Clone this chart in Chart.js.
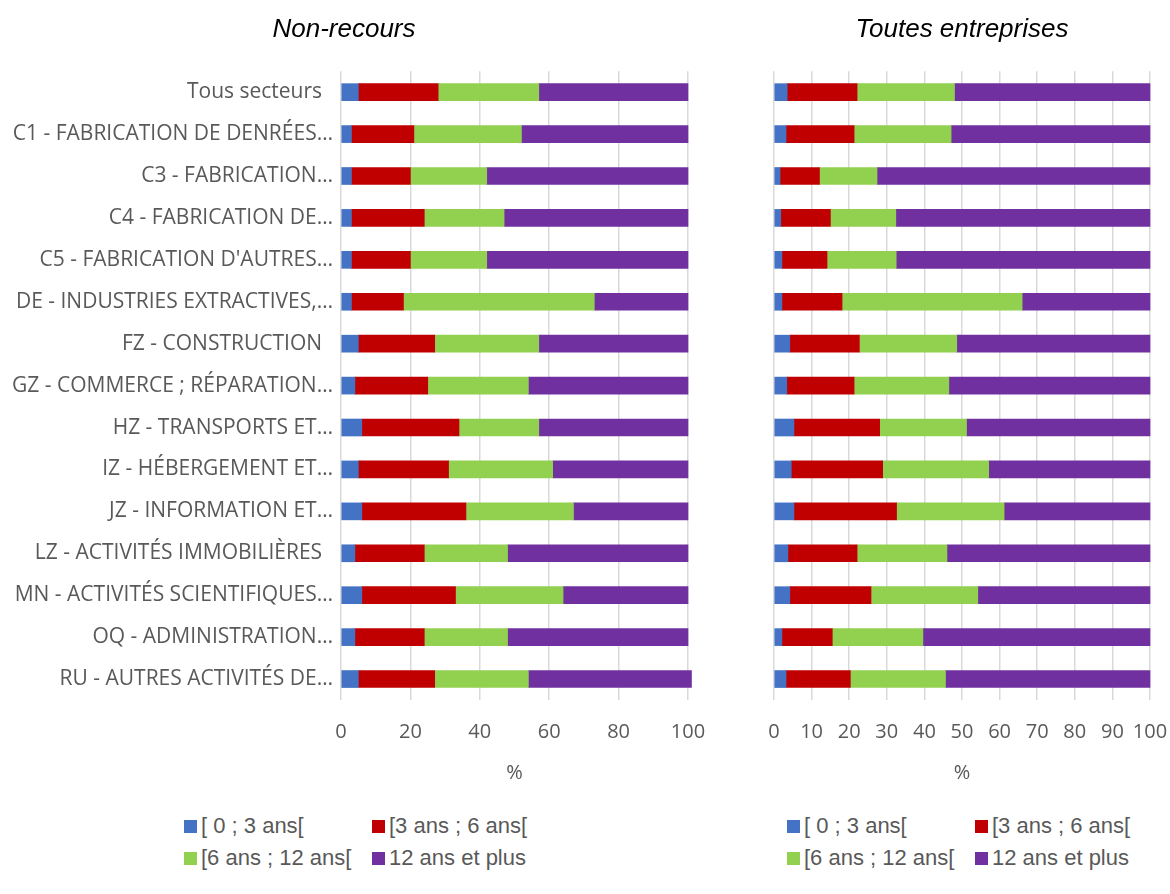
<!DOCTYPE html>
<html>
<head>
<meta charset="utf-8">
<script src="https://cdn.jsdelivr.net/npm/chart.js@4.4.1/dist/chart.umd.min.js"></script>
<style>
  html, body { margin: 0; padding: 0; background: #ffffff; }
  body { width: 1170px; height: 894px; position: relative; overflow: hidden; }
  #wrapL { position: absolute; left: 0; top: 0; width: 715px; height: 800px; }
  #wrapR { position: absolute; left: 760px; top: 0; width: 410px; height: 800px; }
  .legend { position: absolute; font-family: "Liberation Sans", Arial, sans-serif; font-size: 22px; color: #595959; }
  .legend .item { position: absolute; white-space: nowrap; line-height: 26px; }
  .legend .box { display: inline-block; width: 13px; height: 13px; margin-right: 4px; vertical-align: 0px; }
</style>
</head>
<body>
<div id="wrapL"><canvas id="left"></canvas></div>
<div id="wrapR"><canvas id="right"></canvas></div>
<div class="legend" id="legL" style="left:184px; top:813px;"></div>
<div class="legend" id="legR" style="left:787px; top:813px;"></div>
<script>
const categories = [
  "Tous secteurs  ",
  "C1 - FABRICATION DE DENRÉES…",
  "C3 - FABRICATION…",
  "C4 - FABRICATION DE…",
  "C5 - FABRICATION D'AUTRES…",
  "DE - INDUSTRIES EXTRACTIVES,…",
  "FZ - CONSTRUCTION  ",
  "GZ - COMMERCE ; RÉPARATION…",
  "HZ - TRANSPORTS ET…",
  "IZ - HÉBERGEMENT ET…",
  "JZ - INFORMATION ET…",
  "LZ - ACTIVITÉS IMMOBILIÈRES  ",
  "MN - ACTIVITÉS SCIENTIFIQUES…",
  "OQ - ADMINISTRATION…",
  "RU - AUTRES ACTIVITÉS DE…"
];
const seriesNames = ["[ 0 ; 3 ans[", "[3 ans ; 6 ans[", "[6 ans ; 12 ans[", "12 ans et plus"];
const seriesColors = ["#4472C4", "#C00000", "#92D050", "#7030A0"];

// Non-recours
const nr0to3 = [5, 3, 3, 3, 3, 3, 5, 4, 6, 5, 6, 4, 6, 4, 5];
const nr3to6 = [23, 18, 17, 21, 17, 15, 22, 21, 28, 26, 30, 20, 27, 20, 22];
const nr6to12 = [29, 31, 22, 23, 22, 55, 30, 29, 23, 30, 31, 24, 31, 24, 27];
const nr12plus = [43, 48, 58, 53, 58, 27, 43, 46, 43, 39, 33, 52, 36, 52, 47];

// Toutes entreprises
const te0to3 = [3.5, 3.2, 1.6, 1.8, 2.1, 2.1, 4.2, 3.4, 5.3, 4.6, 5.3, 3.7, 4.2, 2.1, 3.2];
const te3to6 = [18.6, 18.1, 10.5, 13.2, 12.0, 16.0, 18.5, 17.9, 22.8, 24.3, 27.3, 18.4, 21.6, 13.4, 17.1];
const te6to12 = [25.9, 25.8, 15.3, 17.4, 18.4, 47.9, 25.9, 25.2, 23.1, 28.2, 28.6, 23.9, 28.4, 24.1, 25.3];
const te12plus = [52.0, 52.9, 72.6, 67.6, 67.5, 34.0, 51.4, 53.5, 48.8, 42.9, 38.8, 54.0, 45.8, 60.4, 54.4];

const leftStep = 20;
const rightStep = 10;

const tickFont = { family: "'Open Sans', sans-serif", size: 20 };
const labelFont = { family: "'Open Sans', sans-serif", size: 21 };
const tickColor = "#595959";

function makeDatasets(arrs) {
  return arrs.map((d, i) => ({
    label: seriesNames[i],
    data: d,
    backgroundColor: seriesColors[i],
    borderWidth: 0,
    barThickness: 17,
    clip: false
  }));
}

function makeChart(id, title, arrs, step, showY) {
  return new Chart(document.getElementById(id), {
    type: 'bar',
    data: { labels: categories, datasets: makeDatasets(arrs) },
    options: {
      indexAxis: 'y',
      responsive: true,
      maintainAspectRatio: false,
      animation: false,
      layout: { padding: showY ? { left: 0, right: 27, top: 0, bottom: 15 } : { left: 14, right: 20, top: 0, bottom: 15 } },
      plugins: {
        legend: { display: false },
        tooltip: { enabled: false },
        title: {
          display: true,
          text: title,
          font: { family: "'Liberation Sans', Arial, sans-serif", size: 26, style: 'italic', weight: 'normal' },
          color: '#000000',
          padding: { top: 14, bottom: 26 }
        }
      },
      scales: {
        x: {
          stacked: true,
          min: 0,
          max: 100,
          ticks: { stepSize: step, font: tickFont, color: tickColor, padding: 20, maxRotation: 0, minRotation: 0, autoSkip: false },
          grid: { color: '#d9d9d9', lineWidth: 1.5, drawTicks: false },
          border: { display: false },
          title: { display: true, text: '%', font: tickFont, color: tickColor, padding: { top: -3, bottom: 0 } },
          afterFit: (s) => { s.paddingLeft = 0; s.paddingRight = 0; }
        },
        y: {
          stacked: true,
          ticks: { display: showY, font: labelFont, color: tickColor, padding: 8 },
          grid: { display: false, drawTicks: false },
          border: { display: false },
          afterFit: showY ? (s) => { s.width = 341; } : undefined
        }
      }
    }
  });
}

makeChart('left', 'Non-recours', [nr0to3, nr3to6, nr6to12, nr12plus], leftStep, true);
makeChart('right', 'Toutes entreprises', [te0to3, te3to6, te6to12, te12plus], rightStep, false);

function buildLegend(id) {
  const el = document.getElementById(id);
  const pos = [[0, 0], [188, 0], [0, 32], [188, 32]];
  seriesNames.forEach((n, i) => {
    const it = document.createElement('div');
    it.className = 'item';
    it.style.left = pos[i][0] + 'px';
    it.style.top = pos[i][1] + 'px';
    it.innerHTML = '<span class="box" style="background:' + seriesColors[i] + '"></span>';
    it.appendChild(document.createTextNode(n));
    el.appendChild(it);
  });
}
buildLegend('legL');
buildLegend('legR');
</script>
</body>
</html>
